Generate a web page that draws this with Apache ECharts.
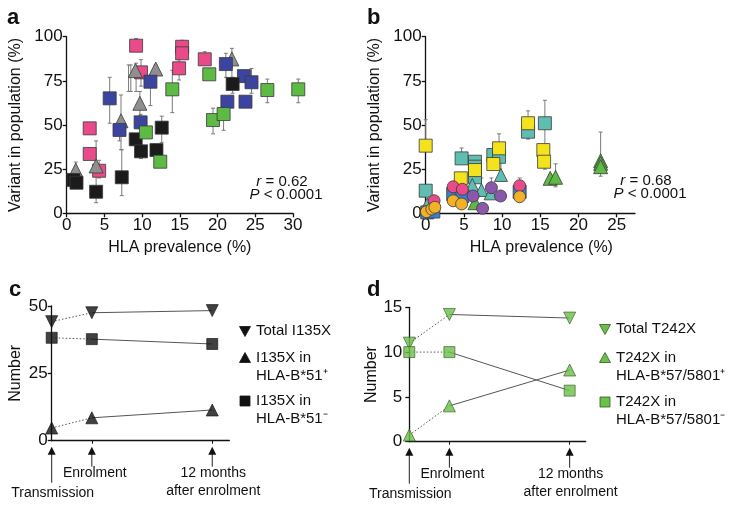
<!DOCTYPE html>
<html lang="en">
<head>
<meta charset="UTF-8">
<title>HLA variants</title>
<style>html,body{margin:0;padding:0;background:#fff}</style>
</head>
<body>
<div id="main" style="width: 729px;height: 506px"></div>
<script type="text/javascript" src="https://cdn.jsdelivr.net/npm/echarts@6.0.0/dist/echarts.min.js"></script>
<script>
var FONT = '"Liberation Sans", Arial, Helvetica, sans-serif';

// ---- panel a : [HLA prevalence %, variant in population %]
var aPink  = [[9.2, 94.9], [9.85, 79.8], [15.3, 94.3], [15.3, 90.6], [14.9, 82.1], [18.3, 87.2], [3.05, 48.1], [3.05, 33.6], [4.3, 24.1]];
var aGray  = [[1.2, 24.5], [3.9, 26.8], [7.2, 52.4], [9.7, 62.3], [9.1, 80.8], [11.8, 81.7], [21.9, 87.4]];
var aBlue  = [[5.7, 65.1], [7.0, 47.2], [9.8, 51.5], [11.1, 74.5], [21.1, 84.5], [21.3, 63.2], [23.5, 77.7], [24.5, 74.2], [23.7, 63.2]];
var aBlack = [[0.9, 18.9], [1.3, 17.3], [3.9, 12.2], [7.3, 20.4], [9.15, 41.9], [9.85, 35.1], [11.9, 35.8], [12.6, 48.5], [22.0, 73.2]];
var aGreen = [[10.5, 45.8], [12.4, 29.2], [14.0, 70.2], [18.9, 78.7], [19.4, 52.8], [20.8, 56.2], [26.6, 69.8], [30.7, 70.2]];
// error bars [x, low, high]
var aErr = [[9.2, 94, 99], [8.2, 69, 84], [8.5, 69, 84], [9.2, 69, 85], [9.85, 72, 87], [11.1, 61, 77], [14.0, 57, 81],
  [5.7, 51, 77], [9.7, 55, 69], [7.2, 36, 67], [7.3, 10, 36], [7.0, 41, 50], [3.9, 6, 41], [4.3, 20, 30],
  [3.05, 46, 51], [3.05, 32, 37], [1.2, 22, 29], [9.85, 31, 38], [12.6, 40, 55], [15.3, 88, 98], [14.9, 75.5, 87],
  [18.3, 85, 91.5], [21.1, 77, 90.6], [21.9, 77, 93.4], [22.0, 68, 77], [24.5, 68, 82], [20.8, 47, 60],
  [19.4, 45, 59.5], [26.6, 62.6, 76], [30.7, 62.6, 76], [11.8, 78, 84], [9.8, 48, 56]];

// ---- panel b
var bTealSq  = [[0, 12.8], [4.7, 31.1], [6.45, 29.2], [6.45, 26.4], [6.45, 20.4], [8.85, 33], [9.6, 32], [13.4, 46.2], [15.6, 51]];
var bYellow  = [[0, 38.3], [4.6, 19.8], [6.45, 24.5], [8.85, 27.9], [9.6, 36.8], [13.4, 51], [15.4, 35.8], [15.5, 29.2]];
var bTealTri = [[0.2, 5], [6.1, 16], [7.3, 13.2], [8.5, 11.3], [9.85, 21.7]];
var bGreen   = [[6.45, 6.0], [16.3, 19.8], [17.0, 20.4], [22.9, 29.8], [22.9, 28.3], [22.9, 26.4]];
var bBlue    = [[0.2, 0.5], [1.0, 1.0], [3.6, 10.9], [4.8, 9.8], [12.3, 12.2]];
var bPink    = [[1.1, 7.1], [3.6, 15], [4.8, 13.6], [12.3, 15.6]];
var bPurple  = [[6.2, 9.8], [7.45, 2.8], [8.6, 14.5], [9.8, 9.8]];
var bOrange  = [[0.1, 0.9], [0.8, 2.4], [1.2, 3.4], [3.6, 7.1], [4.7, 5.3], [12.3, 9.4]];
var bErr = [[0, 38, 53], [15.6, 25, 64], [13.4, 42, 58], [9.6, 36.8, 45], [4.7, 31, 37], [22.9, 21, 46],
  [17.0, 15, 28], [16.3, 17, 22], [9.85, 21.7, 30], [7.3, 13, 20], [12.3, 15.6, 20], [6.45, 20, 32], [8.6, 10, 20]];
var bTicks = [0, 5, 10, 15, 20, 25];

// ---- panels c, d (months from enrolment)
var times = [-4, 0, 12];
var timeLabels = ['Transmission', 'Enrolment', '12 months\nafter enrolment'];
var totalC = [44.2, 47.5, 48.3];
var posC = [4.7, 8.5, 11.4];
var negC = [38.2, 37.7, 35.9];
var totalD = [11.0, 14.2, 13.8];
var posD = [0.74, 4.0, 8.0];
var negD = [10.0, 10.0, 5.7];

function valAxis(gi, min, max, step, extra) {
  var ax = {
    type: 'value', gridIndex: gi, min: min, max: max, interval: step,
    splitLine: {show: false},
    axisLine: {show: true, onZero: false, lineStyle: {color: '#111', width: 1.3}},
    axisTick: {show: true, length: 4, lineStyle: {color: '#111', width: 1.3}},
    axisLabel: {color: '#111', fontSize: 17, fontFamily: FONT, margin: 4},
    nameTextStyle: {color: '#111', fontSize: 16, fontFamily: FONT}
  };
  for (var k in extra) ax[k] = extra[k];
  return ax;
}

function dots(name, gi, data, symbol, color, size) {
  return {
    name: name, type: 'scatter', xAxisIndex: gi, yAxisIndex: gi, data: data,
    symbol: symbol, symbolSize: size, clip: false, z: 3,
    itemStyle: {color: color, borderColor: '#3a3a3a', borderWidth: 0.8, opacity: 1}
  };
}

function errBars(gi, data) {
  return {
    type: 'custom', xAxisIndex: gi, yAxisIndex: gi, data: data, z: 1, clip: false,
    renderItem: function (params, api) {
      var lo = api.coord([api.value(0), api.value(1)]);
      var hi = api.coord([api.value(0), api.value(2)]);
      var st = {stroke: '#7a7a7a', lineWidth: 1};
      return {type: 'group', children: [
        {type: 'line', shape: {x1: lo[0], y1: lo[1], x2: hi[0], y2: hi[1]}, style: st},
        {type: 'line', shape: {x1: hi[0] - 2, y1: hi[1], x2: hi[0] + 2, y2: hi[1]}, style: st},
        {type: 'line', shape: {x1: lo[0] - 2, y1: lo[1], x2: lo[0] + 2, y2: lo[1]}, style: st}
      ]};
    }
  };
}

function pairs(vals) {
  return vals.map(function (v, i) { return [times[i], v]; });
}

function timeLine(gi, vals, symbol, rotate, color, border) {
  var p = pairs(vals);
  return [
    {type: 'line', xAxisIndex: gi, yAxisIndex: gi, data: p.slice(0, 2), showSymbol: false, silent: true,
      lineStyle: {color: '#555', width: 1, type: [1.5, 2]}, z: 1},
    {type: 'line', xAxisIndex: gi, yAxisIndex: gi, data: p.slice(1), showSymbol: false, silent: true,
      lineStyle: {color: '#555', width: 1}, z: 1},
    {type: 'scatter', xAxisIndex: gi, yAxisIndex: gi, data: p, symbol: symbol, symbolRotate: rotate,
      symbolSize: symbol === 'rect' ? 11 : 12, clip: false, z: 3,
      itemStyle: {color: color, borderColor: border, borderWidth: 0.8}}
  ];
}

function arrows(gi) {
  return {
    type: 'custom', xAxisIndex: gi, yAxisIndex: gi, data: times.map(function (t) { return [t, 0]; }),
    clip: false, z: 2,
    renderItem: function (params, api) {
      var i = params.dataIndex;
      var p = api.coord([api.value(0), 0]);
      var x = p[0], y = p[1];
      var len = i === 0 ? 42 : 26;
      return {type: 'group', children: [
        {type: 'line', shape: {x1: x, y1: y + 13, x2: x, y2: y + len}, style: {stroke: '#222', lineWidth: 1}},
        {type: 'polygon', shape: {points: [[x, y + 6], [x - 4, y + 14], [x + 4, y + 14]]}, style: {fill: '#111'}},
        {type: 'text', x: x + (i === 1 ? 3 : 1), y: y + (i === 0 ? 43 : 23),
          style: {text: timeLabels[i], align: 'center', verticalAlign: 'top', fill: '#111',
            font: '14px ' + FONT, lineHeight: 18}}
      ]};
    }
  };
}

function legendBlock(x, rows, color, border) {
  var els = [];
  rows.forEach(function (r) {
    var cx = x, cy = r.y, pts;
    if (r.shape === 'down') pts = [[cx - 5.5, cy - 4.5], [cx + 5.5, cy - 4.5], [cx, cy + 5.5]];
    else if (r.shape === 'up') pts = [[cx - 5.5, cy + 4.5], [cx + 5.5, cy + 4.5], [cx, cy - 5.5]];
    if (pts) els.push({type: 'polygon', shape: {points: pts}, style: {fill: color, stroke: border, lineWidth: 0.8}});
    else els.push({type: 'rect', shape: {x: cx - 5, y: cy - 5, width: 10, height: 10}, style: {fill: color, stroke: border, lineWidth: 0.8}});
    els.push({type: 'text', x: x + 11, y: cy - 9, style: {text: r.text, fill: '#111', font: '15px ' + FONT, lineHeight: 18, verticalAlign: 'top'}});
  });
  return els;
}

function letter(t, x, y) {
  return {type: 'text', x: x, y: y, style: {text: t, fill: '#111', font: 'bold 22px ' + FONT}};
}

function stat(x, y, r) {
  return [
    {type: 'text', x: x, y: y, style: {text: '{i|r} = ' + r, align: 'center', verticalAlign: 'middle',
      font: '15px ' + FONT, fill: '#111', rich: {i: {fontStyle: 'italic', fontSize: 15, fontFamily: FONT}}}},
    {type: 'text', x: x + 4, y: y + 13, style: {text: '{i|P} < 0.0001', align: 'center', verticalAlign: 'middle',
      font: '15px ' + FONT, fill: '#111', rich: {i: {fontStyle: 'italic', fontSize: 15, fontFamily: FONT}}}}
  ];
}

var option = {
  animation: false,
  backgroundColor: '#fff',
  textStyle: {fontFamily: FONT},
  grid: [
    {left: 66.7, top: 36.7, width: 226.3, height: 176.6, outerBoundsMode: 'none'},
    {left: 425.7, top: 36.7, width: 209.3, height: 176.6, outerBoundsMode: 'none'},
    {left: 51.7, top: 306, width: 177.6, height: 134.7, outerBoundsMode: 'none'},
    {left: 409.3, top: 307.3, width: 176.4, height: 134.4, outerBoundsMode: 'none'}
  ],
  xAxis: [
    valAxis(0, 0, 30, 5, {name: 'HLA prevalence (%)', nameLocation: 'middle', nameGap: 26}),
    valAxis(1, 0, 27.4, 5, {name: 'HLA prevalence (%)', nameLocation: 'middle', nameGap: 26,
      nameTextStyle: {color: '#111', fontSize: 16, fontFamily: FONT, padding: [0, 0, 0, 22]},
      axisTick: {show: true, length: 4, customValues: bTicks, lineStyle: {color: '#111', width: 1.3}},
      axisLabel: {color: '#111', fontSize: 17, fontFamily: FONT, margin: 4, customValues: bTicks}}),
    valAxis(2, -4, 13.7, 2, {axisLabel: {show: false},
      axisTick: {show: true, length: 3, customValues: [0, 12], lineStyle: {color: '#111', width: 1}}}),
    valAxis(3, -4, 13.6, 2, {axisLabel: {show: false},
      axisTick: {show: true, length: 3, customValues: [0, 12], lineStyle: {color: '#111', width: 1}}})
  ],
  yAxis: [
    valAxis(0, 0, 100, 25, {name: 'Variant in population (%)', nameLocation: 'middle', nameGap: 43}),
    valAxis(1, 0, 100, 25, {name: 'Variant in population (%)', nameLocation: 'middle', nameGap: 43}),
    valAxis(2, 0, 50, 25, {name: 'Number', nameLocation: 'middle', nameGap: 28}),
    valAxis(3, 0, 15, 5, {name: 'Number', nameLocation: 'middle', nameGap: 27, axisLabel: {color: '#111', fontSize: 17, fontFamily: FONT, margin: 7}})
  ],
  series: [
    errBars(0, aErr),
    dots('pink', 0, aPink, 'rect', '#e84a8a', 13),
    dots('gray', 0, aGray, 'triangle', '#8f8f8f', 14),
    dots('blue', 0, aBlue, 'rect', '#3b45a0', 13),
    dots('black', 0, aBlack, 'rect', '#1b1b1b', 13),
    dots('green', 0, aGreen, 'rect', '#5dba45', 13),
    errBars(1, bErr),
    dots('tealSq', 1, bTealSq, 'rect', '#5fbdb2', 13),
    dots('yellow', 1, bYellow, 'rect', '#f4e31c', 13),
    dots('tealTri', 1, bTealTri, 'triangle', '#5fbdb2', 13),
    dots('greenTri', 1, bGreen, 'triangle', '#5dba45', 14),
    dots('blueSq', 1, bBlue, 'rect', '#3b7fcf', 13),
    dots('pinkC', 1, bPink, 'circle', '#e84a8a', 12),
    dots('purple', 1, bPurple, 'circle', '#8b57ad', 12),
    dots('orange', 1, bOrange, 'circle', '#f2b127', 12)
  ]
    .concat(timeLine(2, totalC, 'triangle', 180, '#111', '#111'))
    .concat(timeLine(2, negC, 'rect', 0, '#111', '#111'))
    .concat(timeLine(2, posC, 'triangle', 0, '#111', '#111'))
    .concat([arrows(2)])
    .concat(timeLine(3, totalD, 'triangle', 180, '#6cbf4a', '#2d5a1d'))
    .concat(timeLine(3, negD, 'rect', 0, '#6cbf4a', '#2d5a1d'))
    .concat(timeLine(3, posD, 'triangle', 0, '#6cbf4a', '#2d5a1d'))
    .concat([arrows(3)]),
  graphic: [
    letter('a', 7, 7), letter('b', 367, 7), letter('c', 9, 279), letter('d', 367, 279)
  ]
    .concat(stat(282, 182, '0.62'))
    .concat(stat(646, 181, '0.68'))
    .concat(legendBlock(245, [
      {shape: 'down', y: 331, text: 'Total I135X'},
      {shape: 'up', y: 358, text: 'I135X in\nHLA-B*51\u207A'},
      {shape: 'sq', y: 401, text: 'I135X in\nHLA-B*51\u207B'}
    ], '#111', '#111'))
    .concat(legendBlock(605, [
      {shape: 'down', y: 329, text: 'Total T242X'},
      {shape: 'up', y: 358, text: 'T242X in\nHLA-B*57/5801\u207A'},
      {shape: 'sq', y: 402, text: 'T242X in\nHLA-B*57/5801\u207B'}
    ], '#6cbf4a', '#2d5a1d'))
};

var myChart = echarts.init(document.getElementById('main'));
myChart.setOption(option);
</script>
</body>
</html>
